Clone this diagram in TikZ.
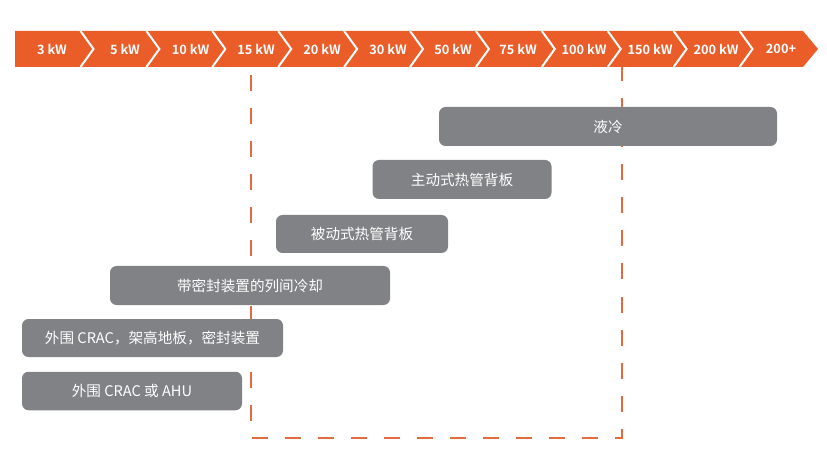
\documentclass[tikz,border=0pt]{standalone}
\usepackage{fontspec}
\setmainfont{Noto Sans CJK SC}
\newfontfamily\kwfont{Noto Sans CJK SC Bold}
\definecolor{orng}{RGB}{234,92,40}
\definecolor{dashorng}{RGB}{226,108,62}
\definecolor{barg}{RGB}{128,130,133}
\tikzset{
  kwlabel/.style={text=white, font=\kwfont\fontsize{12.8}{13}\selectfont, inner sep=0pt},
  cbar/.style={fill=barg, rounded corners=6.5pt, inner sep=0pt, text=white,
    font=\fontsize{14.6}{15}\selectfont},
  sepline/.style={draw=white, line width=2pt},
  dashbox/.style={draw=dashorng, line width=2pt, dash pattern=on 16pt off 17pt}
}
\begin{document}
\begin{tikzpicture}[x=1pt,y=-1pt]
\useasboundingbox (0,0) rectangle (827,454);
% dashed frame (behind bars)
\coordinate (d1) at (251,67);
\coordinate (d2) at (251,437.5);
\coordinate (d3) at (621.5,437.5);
\coordinate (d4) at (621.5,67);
\draw[dashbox, dash phase=-8pt] (d1) -- (d2) -- (d3) -- (d4);
% orange arrow band
\fill[orng] (15,31) -- (803,31) -- (818,49) -- (803,67) -- (15,67) -- cycle;
\foreach \b in {80.5,146.4,212.3,278.2,344.1,410,475.9,541.8,607.7,673.6,739.5}{
  \draw[sepline] (\b,31) -- (\b+13,49) -- (\b,67);
}
\node[kwlabel] (k1) at (52,49) {3 kW};
\node[kwlabel] (k2) at (125,49) {5 kW};
\node[kwlabel] (k3) at (190.5,49) {10 kW};
\node[kwlabel] (k4) at (256,49) {15 kW};
\node[kwlabel] (k5) at (322,49) {20 kW};
\node[kwlabel] (k6) at (388,49) {30 kW};
\node[kwlabel] (k7) at (453,49) {50 kW};
\node[kwlabel] (k8) at (518,49) {75 kW};
\node[kwlabel] (k9) at (584,49) {100 kW};
\node[kwlabel] (k10) at (650,49) {150 kW};
\node[kwlabel] (k11) at (716,49) {200 kW};
\node[kwlabel] (k12) at (781,49) {200+};
% grey bars
\node[cbar, minimum width=338pt, minimum height=39pt] (b1) at (608,126.5) {液冷};
\node[cbar, minimum width=179pt, minimum height=39pt] (b2) at (462,179.5) {主动式热管背板};
\node[cbar, minimum width=172pt, minimum height=38pt] (b3) at (362,234) {被动式热管背板};
\node[cbar, minimum width=280pt, minimum height=39pt] (b4) at (250,285.5) {带密封装置的列间冷却};
\node[cbar, minimum width=261pt, minimum height=38pt] (b5) at (152.5,338) {外围 CRAC，架高地板，密封装置};
\node[cbar, minimum width=220pt, minimum height=38.5pt] (b6) at (132,391) {外围 CRAC 或 AHU};
\end{tikzpicture}
\end{document}
